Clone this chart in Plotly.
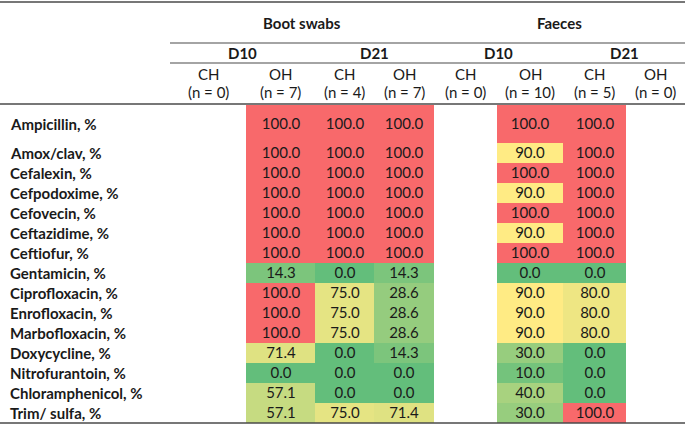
import plotly.graph_objects as go

antibiotics = ["Ampicillin, %", "Amox/clav, %", "Cefalexin, %", "Cefpodoxime, %", "Cefovecin, %",
               "Ceftazidime, %", "Ceftiofur, %", "Gentamicin, %", "Ciprofloxacin, %", "Enrofloxacin, %",
               "Marbofloxacin, %", "Doxycycline, %", "Nitrofurantoin, %", "Chloramphenicol, %", "Trim/ sulfa, %"]

sample_types = ["Boot swabs", "Faeces"]
days = ["D10", "D21", "D10", "D21"]
housing = ["CH", "OH", "CH", "OH", "CH", "OH", "CH", "OH"]
n_labels = ["(n = 0)", "(n = 7)", "(n = 4)", "(n = 7)", "(n = 0)", "(n = 10)", "(n = 5)", "(n = 0)"]

N = None
boot_d10_ch = [N] * 15
boot_d10_oh = [100, 100, 100, 100, 100, 100, 100, 14.3, 100, 100, 100, 71.4, 0, 57.1, 57.1]
boot_d21_ch = [100, 100, 100, 100, 100, 100, 100, 0, 75, 75, 75, 0, 0, 0, 75]
boot_d21_oh = [100, 100, 100, 100, 100, 100, 100, 14.3, 28.6, 28.6, 28.6, 14.3, 0, 0, 71.4]
faeces_d10_ch = [N] * 15
faeces_d10_oh = [100, 90, 100, 90, 100, 90, 100, 0, 90, 90, 90, 30, 10, 40, 30]
faeces_d21_ch = [100, 100, 100, 100, 100, 100, 100, 0, 80, 80, 80, 0, 0, 0, 100]
faeces_d21_oh = [N] * 15

columns = [boot_d10_ch, boot_d10_oh, boot_d21_ch, boot_d21_oh,
           faeces_d10_ch, faeces_d10_oh, faeces_d21_ch, faeces_d21_oh]

# layout geometry (pixel space)
col_edges = [170, 246, 315, 374, 434, 497, 563, 626, 685]
row_edges = [105, 143] + [143 + 20 * i for i in range(1, 15)]

z = [[col[r] for col in columns] for r in range(len(antibiotics))]
txt = [["" if v is None else f"{v:.1f}" for v in row] for row in z]

W, H = 685, 424
FONT = "Lato, 'Open Sans', sans-serif"
FS = 15
TXT = "#1a1a1a"

fig = go.Figure()
fig.add_trace(go.Heatmap(
    x=col_edges, y=row_edges, z=z, text=txt, texttemplate="%{text}",
    textfont=dict(family=FONT, size=FS, color=TXT),
    zmin=0, zmax=100,
    colorscale=[[0, "#63BE7B"], [0.9, "#FFEB84"], [1.0, "#F8696B"]],
    showscale=False, hoverinfo="skip", xgap=0, ygap=0,
))

ann = []
# row labels
for i, name in enumerate(antibiotics):
    yc = (row_edges[i] + row_edges[i + 1]) / 2
    ann.append(dict(x=8, y=yc, text=f"<b>{name}</b>", xanchor="left", yanchor="middle",
                    showarrow=False, font=dict(family=FONT, size=FS, color=TXT)))
# column headers
for j in range(8):
    xc = (col_edges[j] + col_edges[j + 1]) / 2
    ann.append(dict(x=xc, y=74, text=housing[j], showarrow=False, xanchor="center", yanchor="middle",
                    font=dict(family=FONT, size=FS, color=TXT)))
    ann.append(dict(x=xc, y=92, text=n_labels[j], showarrow=False, xanchor="center", yanchor="middle",
                    font=dict(family=FONT, size=FS, color=TXT)))
# day headers
for k in range(4):
    xc = (col_edges[2 * k] + col_edges[2 * k + 2]) / 2
    ann.append(dict(x=xc, y=53, text=f"<b>{days[k]}</b>", showarrow=False, xanchor="center",
                    yanchor="middle", font=dict(family=FONT, size=FS, color=TXT)))
# sample type headers
for k in range(2):
    xc = (col_edges[4 * k] + col_edges[4 * k + 4]) / 2
    ann.append(dict(x=xc, y=23, text=f"<b>{sample_types[k]}</b>", showarrow=False, xanchor="center",
                    yanchor="middle", font=dict(family=FONT, size=FS, color=TXT)))

line_col = "#4a4a4a"
shapes = [
    dict(type="line", x0=0, x1=W, y0=2, y1=2, line=dict(color=line_col, width=1.5)),
    dict(type="line", x0=170, x1=W, y0=43, y1=43, line=dict(color=line_col, width=1.2)),
    dict(type="line", x0=170, x1=W, y0=63, y1=63, line=dict(color=line_col, width=1.2)),
    dict(type="line", x0=0, x1=W, y0=104, y1=104, line=dict(color=line_col, width=1.5)),
    dict(type="line", x0=0, x1=W, y0=423, y1=423, line=dict(color=line_col, width=1.5)),
]

fig.update_layout(
    width=W, height=H, margin=dict(l=0, r=0, t=0, b=0),
    paper_bgcolor="white", plot_bgcolor="white",
    xaxis=dict(range=[0, W], visible=False, fixedrange=True),
    yaxis=dict(range=[H, 0], visible=False, fixedrange=True),
    annotations=ann, shapes=shapes,
)
fig.write_html("out.html", config={"displayModeBar": False},
               post_script="document.body.style.margin='0';document.body.style.overflow='hidden';")
